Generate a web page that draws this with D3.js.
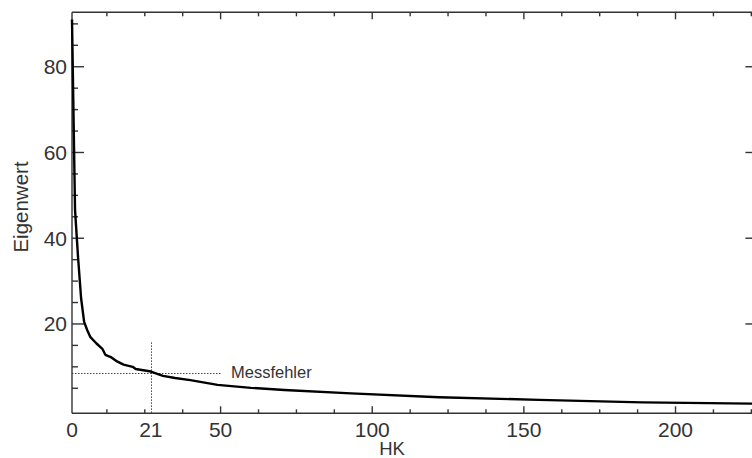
<html>
<head>
<meta charset="utf-8">
<style>
  body{margin:0;background:#fff;}
  text{font-family:"Liberation Sans",Arial,sans-serif;fill:#333;}
</style>
</head>
<body>
<svg width="752" height="458"></svg>
<script src="https://cdn.jsdelivr.net/npm/d3@7/dist/d3.min.js"></script>
<script>

// eigenvalues (HK index, Eigenwert)
var hk  = [1, 2, 3, 4, 5, 6, 7, 9, 11, 12, 14, 16, 18, 21, 22, 27, 31, 35, 40, 49, 60, 71, 93, 122, 155, 189, 226];
var eig = [91, 46.6, 35.5, 26, 20.5, 18.6, 17.0, 15.5, 14.2, 12.8, 12.2, 11.2, 10.5, 10.0, 9.5, 8.9, 7.9, 7.4, 6.9, 5.8, 5.1, 4.6, 3.8, 2.9, 2.3, 1.7, 1.4];

// axis ticks
var xMajor = [50, 100, 150, 200];
var xMinorStep = 12.5;
var xLabelPos = [1, 27, 50, 100, 150, 200];
var xLabels = ["0", "21", "50", "100", "150", "200"];
var yMajor = [20, 40, 60, 80];
var yMinorStep = 5;

// measurement error marker
var cutoffHK = 27, cutoffTop = 15.7;
var errLevel = 8.6, errEnd = 50;
var errText = "Messfehler";

var svg = d3.select("svg");
var pL = 72, pR = 757.4, pT = 12.3, pB = 413.3;

var x = d3.scaleLinear().domain([1, 227]).range([pL, pR]);
var y = d3.scaleLinear().domain([-0.84, 92.7]).range([pB, pT]);

var xMinor = d3.range(xMinorStep, 227, xMinorStep).filter(function(v){ return xMajor.indexOf(v) < 0; });
var yMinor = d3.range(yMinorStep, 92, yMinorStep).filter(function(v){ return yMajor.indexOf(v) < 0; });

var axisCol = "#333";

// frame
var frame = svg.append("g").attr("stroke", axisCol).attr("stroke-width", 1.4).attr("fill", "none");
frame.append("line").attr("x1", pL).attr("x2", pR).attr("y1", pB).attr("y2", pB);
frame.append("line").attr("x1", pL).attr("x2", pR).attr("y1", pT).attr("y2", pT);
frame.append("line").attr("x1", pL).attr("x2", pL).attr("y1", pT).attr("y2", pB);
frame.append("line").attr("x1", pR).attr("x2", pR).attr("y1", pT).attr("y2", pB);

// x ticks (bottom + top)
function xTicks(vals, len){
  frame.selectAll(null).data(vals).enter().append("line")
    .attr("x1", function(d){ return x(d); }).attr("x2", function(d){ return x(d); })
    .attr("y1", pB).attr("y2", pB - len);
  frame.selectAll(null).data(vals).enter().append("line")
    .attr("x1", function(d){ return x(d); }).attr("x2", function(d){ return x(d); })
    .attr("y1", pT).attr("y2", pT + len);
}
xTicks(xMajor, 7);
xTicks(xMinor, 4);

// y ticks (left + right)
function yTicks(vals, len, lenR){
  frame.selectAll(null).data(vals).enter().append("line")
    .attr("x1", pL).attr("x2", pL + len)
    .attr("y1", function(d){ return y(d); }).attr("y2", function(d){ return y(d); });
  frame.selectAll(null).data(vals).enter().append("line")
    .attr("x1", pR).attr("x2", pR - lenR)
    .attr("y1", function(d){ return y(d); }).attr("y2", function(d){ return y(d); });
}
yTicks(yMajor, 12, 12);
yTicks(yMinor, 6, 5);

// tick labels
svg.selectAll("text.xl").data(xLabelPos).enter().append("text")
  .attr("class", "xl")
  .attr("x", function(d){ return x(d); })
  .attr("y", 437)
  .attr("text-anchor", "middle")
  .attr("font-size", 21)
  .text(function(d, i){ return xLabels[i]; });

svg.selectAll("text.yl").data(yMajor).enter().append("text")
  .attr("class", "yl")
  .attr("x", 67)
  .attr("y", function(d){ return y(d) + 7.5; })
  .attr("text-anchor", "end")
  .attr("font-size", 21)
  .text(function(d){ return d; });

// axis titles
svg.append("text")
  .attr("x", 392).attr("y", 455)
  .attr("text-anchor", "middle")
  .attr("font-size", 18.5)
  .text("HK");

svg.append("text")
  .attr("transform", "translate(28,207) rotate(-90)")
  .attr("text-anchor", "middle")
  .attr("font-size", 20.5)
  .text("Eigenwert");

// dotted marker lines
var vx = Math.round(x(cutoffHK)) + 0.5, hy = Math.round(y(errLevel)) + 0.5;
svg.append("line")
  .attr("x1", vx).attr("x2", vx)
  .attr("y1", y(cutoffTop)).attr("y2", pB)
  .attr("stroke", "#444").attr("stroke-width", 1).attr("stroke-dasharray", "1.5,1.5");
svg.append("line")
  .attr("x1", pL).attr("x2", x(errEnd))
  .attr("y1", hy).attr("y2", hy)
  .attr("stroke", "#444").attr("stroke-width", 1).attr("stroke-dasharray", "1.5,1.5");
svg.append("text")
  .attr("x", 231).attr("y", y(errLevel) + 5)
  .attr("font-size", 16.5)
  .text(errText);

// eigenvalue curve
var line = d3.line()
  .x(function(d){ return x(d[0]); })
  .y(function(d){ return y(d[1]); });

svg.append("path")
  .datum(d3.zip(hk, eig))
  .attr("d", line)
  .attr("fill", "none")
  .attr("stroke", "#000")
  .attr("stroke-width", 2.4)
  .attr("stroke-linejoin", "round");

</script>
</body>
</html>
